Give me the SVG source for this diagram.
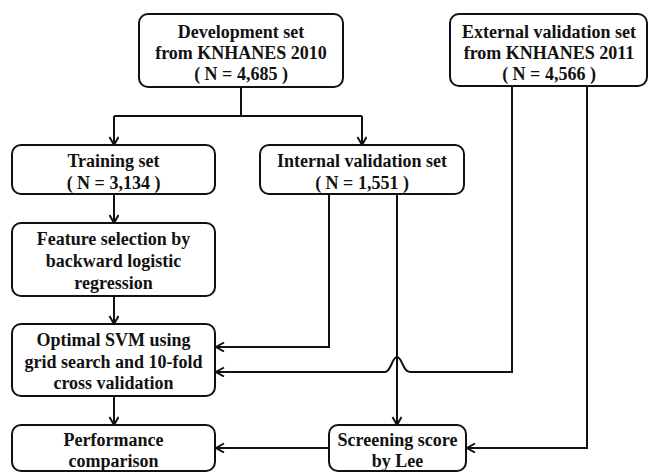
<svg xmlns="http://www.w3.org/2000/svg" width="649" height="472" viewBox="0 0 649 472">
<style>
.box{fill:#fff;stroke:#111;stroke-width:2}
.t{font-family:"Liberation Serif","Times New Roman",serif;font-weight:bold;font-size:18px;fill:#111;text-anchor:middle}
.c{fill:none;stroke:#111;stroke-width:2}
</style>
<defs>
<marker id="arr" markerUnits="userSpaceOnUse" markerWidth="12" markerHeight="12" refX="9" refY="5" orient="auto">
<path d="M1,0.5 L9,5 L1,9.5" fill="none" stroke="#111" stroke-width="2"/>
</marker>
</defs>
<rect width="649" height="472" fill="#fff"/>
<g id="connectors">
<path class="c" d="M241,87 V116"/>
<path class="c" d="M114,116 H362"/>
<path class="c" d="M114,116 V145" marker-end="url(#arr)"/>
<path class="c" d="M362,116 V145" marker-end="url(#arr)"/>
<path class="c" d="M114,194 V223" marker-end="url(#arr)"/>
<path class="c" d="M114,296 V324" marker-end="url(#arr)"/>
<path class="c" d="M114,396 V425" marker-end="url(#arr)"/>
<path class="c" d="M329,194 V347 H216" marker-end="url(#arr)"/>
<path class="c" d="M397,194 V425" marker-end="url(#arr)"/>
<path class="c" d="M512,86 V372 H410 C403,372 402,357 397,357 C392,357 391,372 385,372 H216" marker-end="url(#arr)"/>
<path class="c" d="M587,86 V448 H467" marker-end="url(#arr)"/>
<path class="c" d="M329,448 H216" marker-end="url(#arr)"/>
</g>
<g id="dev">
<rect class="box" x="139" y="14" width="204" height="73" rx="9"/>
<text class="t" x="241" y="38">Development set</text>
<text class="t" x="241" y="59">from KNHANES 2010</text>
<text class="t" x="241" y="80">( N = 4,685 )</text>
</g>
<g id="ext">
<rect class="box" x="450" y="14" width="197" height="72" rx="9"/>
<text class="t" x="549" y="38">External validation set</text>
<text class="t" x="549" y="59">from KNHANES 2011</text>
<text class="t" x="549" y="80">( N = 4,566 )</text>
</g>
<g id="train">
<rect class="box" x="12" y="145" width="203" height="49" rx="9"/>
<text class="t" x="113.5" y="167">Training set</text>
<text class="t" x="113.5" y="189">( N = 3,134 )</text>
</g>
<g id="internal">
<rect class="box" x="260" y="145" width="204" height="49" rx="9"/>
<text class="t" x="362" y="167">Internal validation set</text>
<text class="t" x="362" y="189">( N = 1,551 )</text>
</g>
<g id="feature">
<rect class="box" x="12" y="223" width="203" height="73" rx="9"/>
<text class="t" x="113.5" y="245">Feature selection by</text>
<text class="t" x="113.5" y="267">backward logistic</text>
<text class="t" x="113.5" y="289">regression</text>
</g>
<g id="svm">
<rect class="box" x="12" y="324" width="203" height="72" rx="9"/>
<text class="t" x="113.5" y="346">Optimal SVM using</text>
<text class="t" x="113.5" y="368">grid search and 10-fold</text>
<text class="t" x="113.5" y="389">cross validation</text>
</g>
<g id="perf">
<rect class="box" x="12" y="425" width="203" height="46" rx="9"/>
<text class="t" x="113.5" y="446">Performance</text>
<text class="t" x="113.5" y="467">comparison</text>
</g>
<g id="screen">
<rect class="box" x="329" y="425" width="137" height="46" rx="9"/>
<text class="t" x="397.5" y="446">Screening score</text>
<text class="t" x="397.5" y="467">by Lee</text>
</g>
</svg>
